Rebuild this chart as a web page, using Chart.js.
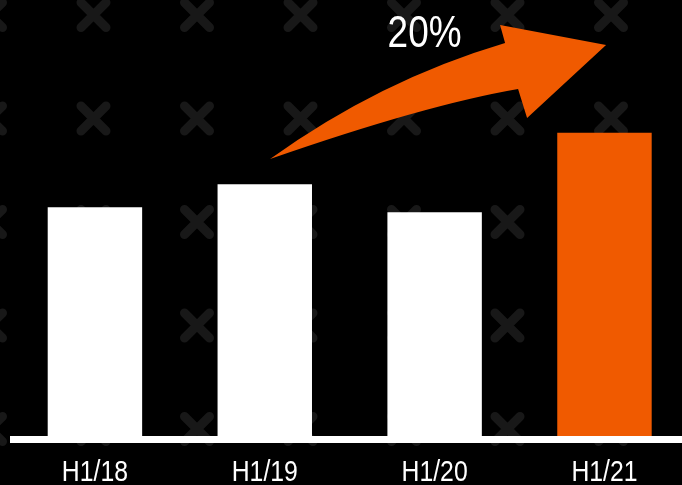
<!DOCTYPE html>
<html>
<head>
<meta charset="utf-8">
<script src="https://cdn.jsdelivr.net/npm/chart.js@4/dist/chart.umd.min.js"></script>
<style>
  html, body { margin: 0; padding: 0; background: #000; overflow: hidden; }
  #wrap { position: relative; width: 690px; height: 485px; }
</style>
</head>
<body>
<div id="wrap"><canvas id="c"></canvas></div>
<script>
// Half-year figures (H1/19 = 100)
const categories = ['H1/18', 'H1/19', 'H1/20', 'H1/21'];
const values = [90.9, 100, 88.9, 120.5];
const barColors = ['#ffffff', '#ffffff', '#ffffff', '#f05a00'];
const growthLabel = '20%';
const yMax = 173.2;

const FONT = '"Liberation Sans", Arial, sans-serif';
const ORANGE = '#f05a00';
const NARROW = 0.84; // horizontal squeeze for the condensed lettering

function drawNarrowText(ctx, text, cx, baseline, size) {
  ctx.save();
  ctx.font = size + 'px ' + FONT;
  ctx.textAlign = 'center';
  ctx.textBaseline = 'alphabetic';
  ctx.translate(cx, baseline);
  ctx.scale(NARROW, 1);
  ctx.fillText(text, 0, 0);
  ctx.restore();
}

// Faint tiled crosses behind the chart
const crossBackground = {
  id: 'crossBackground',
  beforeDraw(chart) {
    const ctx = chart.ctx;
    ctx.save();
    ctx.fillStyle = '#000';
    ctx.fillRect(0, 0, chart.width, chart.height);
    ctx.strokeStyle = '#181818';
    ctx.lineWidth = 9;
    ctx.lineCap = 'round';
    const step = 103.5, d = 12.5;
    for (let y = 15; y < 440; y += step) {
      for (let x = -10; x < chart.width + 20; x += step) {
        ctx.beginPath();
        ctx.moveTo(x - d, y - d); ctx.lineTo(x + d, y + d);
        ctx.moveTo(x + d, y - d); ctx.lineTo(x - d, y + d);
        ctx.stroke();
      }
    }
    ctx.restore();
  }
};

// Baseline, category labels, growth arrow and its label
const growthArrow = {
  id: 'growthArrow',
  afterDatasetsDraw(chart) {
    const ctx = chart.ctx;
    const area = chart.chartArea;
    const xScale = chart.scales.x;
    ctx.save();
    ctx.fillStyle = '#ffffff';
    ctx.fillRect(area.left, area.bottom, area.right - area.left, 7);

    chart.data.labels.forEach((lab, i) => {
      drawNarrowText(ctx, lab, xScale.getPixelForValue(i), area.bottom + 44.5, 29.5);
    });

    const bars = chart.getDatasetMeta(0).data;
    const sx = bars[1].x + 5.3, sy = bars[1].y - 25.3;
    const p = (dx, dy) => [sx + dx, sy + dy];

    ctx.fillStyle = ORANGE;
    ctx.beginPath();
    ctx.moveTo(sx, sy);
    ctx.quadraticCurveTo(...p(110, -79), ...p(235, -116));
    ctx.lineTo(...p(230, -134));
    ctx.lineTo(...p(336, -114));
    ctx.lineTo(...p(257, -41));
    ctx.lineTo(...p(248, -70));
    ctx.quadraticCurveTo(...p(155, -54), sx, sy);
    ctx.closePath();
    ctx.fill();

    ctx.fillStyle = '#ffffff';
    drawNarrowText(ctx, growthLabel, ...p(154.5, -112.3), 44);
    ctx.restore();
  }
};

new Chart(document.getElementById('c'), {
  type: 'bar',
  data: {
    labels: categories,
    datasets: [{
      data: values,
      backgroundColor: barColors,
      borderWidth: 0,
      categoryPercentage: 1,
      barPercentage: 0.556
    }]
  },
  options: {
    responsive: true,
    maintainAspectRatio: false,
    animation: false,
    devicePixelRatio: 1,
    layout: { padding: { left: 10, right: 0.6, top: 0, bottom: 49 } },
    plugins: { legend: { display: false }, tooltip: { enabled: false } },
    scales: {
      x: { display: false },
      y: { display: false, min: 0, max: yMax }
    }
  },
  plugins: [crossBackground, growthArrow]
});
</script>
</body>
</html>
